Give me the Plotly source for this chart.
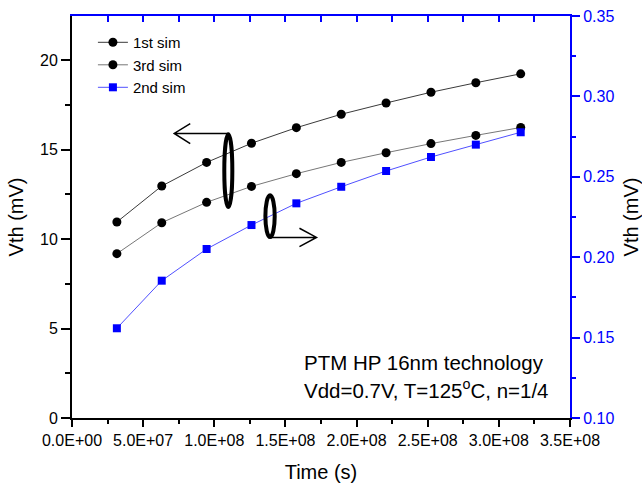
import plotly.graph_objects as go

# ---- data ----
time_s = [3.1536e7, 6.3072e7, 9.4608e7, 1.26144e8, 1.5768e8,
          1.89216e8, 2.20752e8, 2.52288e8, 2.83824e8, 3.1536e8]
sim1_mv = [10.95, 12.96, 14.28, 15.35, 16.22, 16.97, 17.60, 18.20, 18.73, 19.23]
sim3_mv = [9.18, 10.91, 12.05, 12.94, 13.65, 14.28, 14.82, 15.33, 15.79, 16.23]
sim2_right = [0.1558, 0.1854, 0.2051, 0.2200, 0.2335, 0.2438, 0.2536, 0.2623, 0.2700, 0.2777]

x_tickvals = [0, 5e7, 1e8, 1.5e8, 2e8, 2.5e8, 3e8, 3.5e8]
x_ticktext = ["0.0E+00", "5.0E+07", "1.0E+08", "1.5E+08", "2.0E+08", "2.5E+08", "3.0E+08", "3.5E+08"]
yl_tickvals = [0, 5, 10, 15, 20]
yr_tickvals = [0.10, 0.15, 0.20, 0.25, 0.30, 0.35]
yr_ticktext = ["0.10", "0.15", "0.20", "0.25", "0.30", "0.35"]

FONT = "Liberation Sans, Arial, sans-serif"
BLUE = "#0000ff"

fig = go.Figure()
fig.add_trace(go.Scatter(x=time_s, y=sim1_mv, name="1st sim", mode="lines+markers",
                         line=dict(color="#3a3a3a", width=1),
                         marker=dict(symbol="circle", size=9, color="black")))
fig.add_trace(go.Scatter(x=time_s, y=sim3_mv, name="3rd sim", mode="lines+markers",
                         line=dict(color="#777777", width=1),
                         marker=dict(symbol="circle", size=9, color="black")))
fig.add_trace(go.Scatter(x=time_s, y=sim2_right, name="2nd sim", mode="lines+markers",
                         yaxis="y2",
                         line=dict(color="#5050ff", width=1),
                         marker=dict(symbol="square", size=8, color=BLUE)))
# dummy trace to make the top axis exist
fig.add_trace(go.Scatter(x=[None], y=[None], xaxis="x2", yaxis="y",
                         showlegend=False, hoverinfo="skip"))

shapes = [
    dict(type="circle", xref="x", yref="y", x0=1.0704e8, x1=1.1268e8, y0=11.79, y1=15.85,
         line=dict(color="black", width=4)),
    dict(type="circle", xref="x", yref="y", x0=1.3592e8, x1=1.4247e8, y0=10.11, y1=12.44,
         line=dict(color="black", width=4)),
    dict(type="path", xref="x", yref="y",
         path="M 1.099e8,15.9 L 0.7183e8,15.9 M 0.831e8,16.45 L 0.7183e8,15.9 L 0.831e8,15.33",
         line=dict(color="black", width=1.5)),
    dict(type="path", xref="x", yref="y",
         path="M 1.4014e8,10.09 L 1.7183e8,10.09 M 1.5986e8,10.6 L 1.7183e8,10.09 L 1.5986e8,9.57",
         line=dict(color="black", width=1.5)),
]

annotations = [
    dict(text="PTM HP 16nm technology", xref="paper", yref="paper",
         x=(302 - 72) / 498, y=(418 - 362) / 402, xanchor="left", yanchor="middle",
         showarrow=False, font=dict(family=FONT, size=20.5, color="black")),
    dict(text="Vdd=0.7V, T=125<sup>o</sup>C, n=1/4", xref="paper", yref="paper",
         x=(302 - 72) / 498, y=(418 - 389) / 402, xanchor="left", yanchor="middle",
         showarrow=False, font=dict(family=FONT, size=20.5, color="black")),
]

fig.update_layout(
    width=642, height=483,
    margin=dict(l=72, r=72, t=16, b=65, autoexpand=False),
    paper_bgcolor="white", plot_bgcolor="white",
    font=dict(family=FONT, size=16, color="black"),
    showlegend=True,
    legend=dict(x=0.042, y=0.975, xanchor="left", yanchor="top",
                bgcolor="rgba(0,0,0,0)", font=dict(family=FONT, size=15),
                tracegroupgap=0, itemwidth=30),
    xaxis=dict(range=[0, 3.5e8], tickvals=x_tickvals, ticktext=x_ticktext, automargin=False,
               showgrid=False, zeroline=False, showline=True, linecolor="black", linewidth=2,
               ticks="outside", ticklen=7, tickwidth=1.5, tickcolor="black",
               minor=dict(dtick=2.5e7, tick0=0, ticks="outside", ticklen=4, tickcolor="black", tickwidth=1.5),
               title=dict(text="Time (s)", font=dict(size=20), standoff=17),
               tickfont=dict(size=16)),
    xaxis2=dict(range=[0, 3.5e8], overlaying="x", side="top", showticklabels=False, automargin=False,
                showgrid=False, zeroline=False, showline=True, linecolor=BLUE, linewidth=2,
                tickvals=x_tickvals, ticks="inside", ticklen=6, tickwidth=1.5, tickcolor=BLUE,
                minor=dict(dtick=2.5e7, tick0=0, ticks="inside", ticklen=6, tickcolor=BLUE, tickwidth=1.5)),
    yaxis=dict(range=[0, 22.46], tickvals=yl_tickvals, automargin=False,
               showgrid=False, zeroline=False, showline=True, linecolor="black", linewidth=2,
               ticks="outside", ticklen=9, tickwidth=1.5, tickcolor="black",
               minor=dict(dtick=2.5, tick0=0, ticks="outside", ticklen=5, tickcolor="black", tickwidth=1.5),
               title=dict(text="Vth (mV)", font=dict(size=20), standoff=11),
               tickfont=dict(size=16)),
    yaxis2=dict(range=[0.10, 0.35], overlaying="y", side="right", automargin=False,
                tickvals=yr_tickvals, ticktext=yr_ticktext,
                showgrid=False, zeroline=False, showline=True, linecolor=BLUE, linewidth=2,
                ticks="outside", ticklen=8, tickwidth=1.5, tickcolor=BLUE,
                minor=dict(dtick=0.025, tick0=0.1, ticks="outside", ticklen=4, tickcolor=BLUE, tickwidth=1.5),
                tickfont=dict(size=16, color=BLUE),
                title=dict(text="Vth (mV)", font=dict(size=20, color="black"), standoff=12)),
    shapes=shapes,
    annotations=annotations,
)

fig.write_html("out.html")
